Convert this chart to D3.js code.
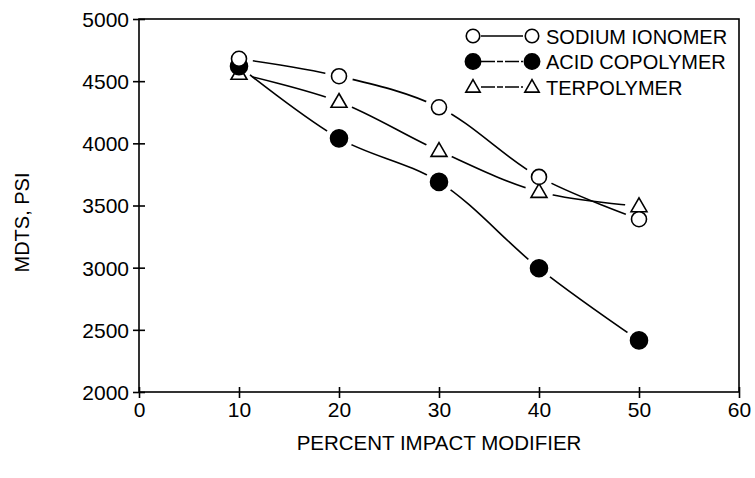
<!DOCTYPE html>
<html><head><meta charset="utf-8">
<script src="https://cdn.jsdelivr.net/npm/d3@7"></script>
<style>body{margin:0;background:#fff}svg{display:block}text{font-family:"Liberation Sans",Arial,sans-serif;fill:#000}</style>
</head><body>
<script>
const xValues = [10, 20, 30, 40, 50];
const sodiumIonomer = [4680, 4540, 4290, 3730, 3390];
const acidCopolymer = [4620, 4040, 3690, 2995, 2415];
const terpolymer = [4560, 4335, 3940, 3610, 3495];
const seriesNames = ["SODIUM IONOMER", "ACID COPOLYMER", "TERPOLYMER"];
const xTicks = [0, 10, 20, 30, 40, 50, 60];
const yTicks = [2000, 2500, 3000, 3500, 4000, 4500, 5000];

const W = 755, H = 478;
const m = {l: 139, r: 739, t: 19, b: 392};
const svg = d3.select("body").append("svg").attr("width", W).attr("height", H);
const x = d3.scaleLinear().domain([0, 60]).range([m.l, m.r]);
const y = d3.scaleLinear().domain([2000, 5000]).range([m.b, m.t]);
const FONT = "Liberation Sans, Arial, sans-serif";

const series = [
  {name: seriesNames[0], vals: sodiumIonomer, sym: "open"},
  {name: seriesNames[1], vals: acidCopolymer, sym: "filled"},
  {name: seriesNames[2], vals: terpolymer, sym: "tri"}
];

// frame
svg.append("rect").attr("x", m.l).attr("y", m.t).attr("width", m.r - m.l).attr("height", m.b - m.t)
  .attr("fill", "none").attr("stroke", "#000").attr("stroke-width", 1.6);

// axes
const yAxis = svg.append("g").attr("transform", `translate(${m.l},0)`)
  .call(d3.axisLeft(y).tickValues(yTicks).tickSize(6).tickPadding(5).tickFormat(d3.format("d")));
yAxis.attr("font-size", 21);
yAxis.selectAll(".tick line").attr("x2", 6).attr("x1", -6).attr("stroke-width", 1.6);
yAxis.select(".domain").remove();
yAxis.selectAll("text").attr("font-size", 21).style("font-family", FONT).attr("x", -10).attr("dy", "0.35em");

const xAxis = svg.append("g").attr("transform", `translate(0,${m.b})`)
  .call(d3.axisBottom(x).tickValues(xTicks).tickSize(6).tickPadding(6));
xAxis.attr("font-size", 21);
xAxis.selectAll(".tick line").attr("y1", -5).attr("y2", 6).attr("stroke-width", 1.6);
xAxis.select(".domain").remove();
xAxis.selectAll("text").attr("font-size", 21).style("font-family", FONT).attr("y", 10);

// titles
svg.append("text").attr("x", (m.l + m.r) / 2).attr("y", 450).attr("text-anchor", "middle")
  .attr("font-size", 20.5).text("PERCENT IMPACT MODIFIER");
svg.append("text").attr("transform", `translate(29,${(m.t + m.b) / 2 + 17}) rotate(-90)`)
  .attr("text-anchor", "middle").attr("font-size", 20).text("MDTS, PSI");

// masks + lines
const defs = svg.append("defs");
const line = d3.line().x(d => x(d[0])).y(d => y(d[1])).curve(d3.curveCatmullRom.alpha(0.5));
series.forEach((s, i) => {
  const pts = xValues.map((xv, j) => [xv, s.vals[j]]);
  const mk = defs.append("mask").attr("id", "mk" + i).attr("maskUnits", "userSpaceOnUse")
    .attr("x", 0).attr("y", 0).attr("width", W).attr("height", H);
  mk.append("rect").attr("width", W).attr("height", H).attr("fill", "#fff");
  pts.forEach(p => mk.append("circle").attr("cx", x(p[0])).attr("cy", y(p[1])).attr("r", 14).attr("fill", "#000"));
  svg.append("path").attr("d", line(pts)).attr("fill", "none").attr("stroke", "#000")
    .attr("stroke-width", 1.6).attr("mask", `url(#mk${i})`);
});

function drawSym(g, sym, cx, cy, big) {
  const k = big ? 1 : 0.9;
  if (sym === "tri") {
    g.append("path").attr("d", d3.symbol(d3.symbolTriangle, 110 * k * k)())
      .attr("transform", `translate(${cx},${cy + 1})`).attr("fill", "#fff").attr("stroke", "#000").attr("stroke-width", 1.6);
  } else {
    g.append("circle").attr("cx", cx).attr("cy", cy).attr("r", (sym === "open" ? 7.5 : 8.5) * k)
      .attr("fill", sym === "open" ? "#fff" : "#000").attr("stroke", "#000").attr("stroke-width", 1.6);
  }
}
[2, 1, 0].forEach(i => {
  const s = series[i];
  const g = svg.append("g");
  xValues.forEach((xv, j) => drawSym(g, s.sym, x(xv), y(s.vals[j]), true));
});

// legend
const lg = svg.append("g");
const dashes = [null, "14,2,6,2", "14,2,6,2"];
const rowY = [36, 61.5, 87];
series.forEach((s, i) => {
  const cy = rowY[i];
  lg.append("line").attr("x1", 481).attr("x2", 523).attr("y1", cy).attr("y2", cy)
    .attr("stroke", "#000").attr("stroke-width", 1.6).attr("stroke-dasharray", dashes[i]);
  drawSym(lg, s.sym, 473, cy, false);
  drawSym(lg, s.sym, 532, cy, false);
  lg.append("text").attr("x", 546).attr("y", cy + 7.5).attr("font-size", 20).text(s.name);
});
</script>
</body></html>
